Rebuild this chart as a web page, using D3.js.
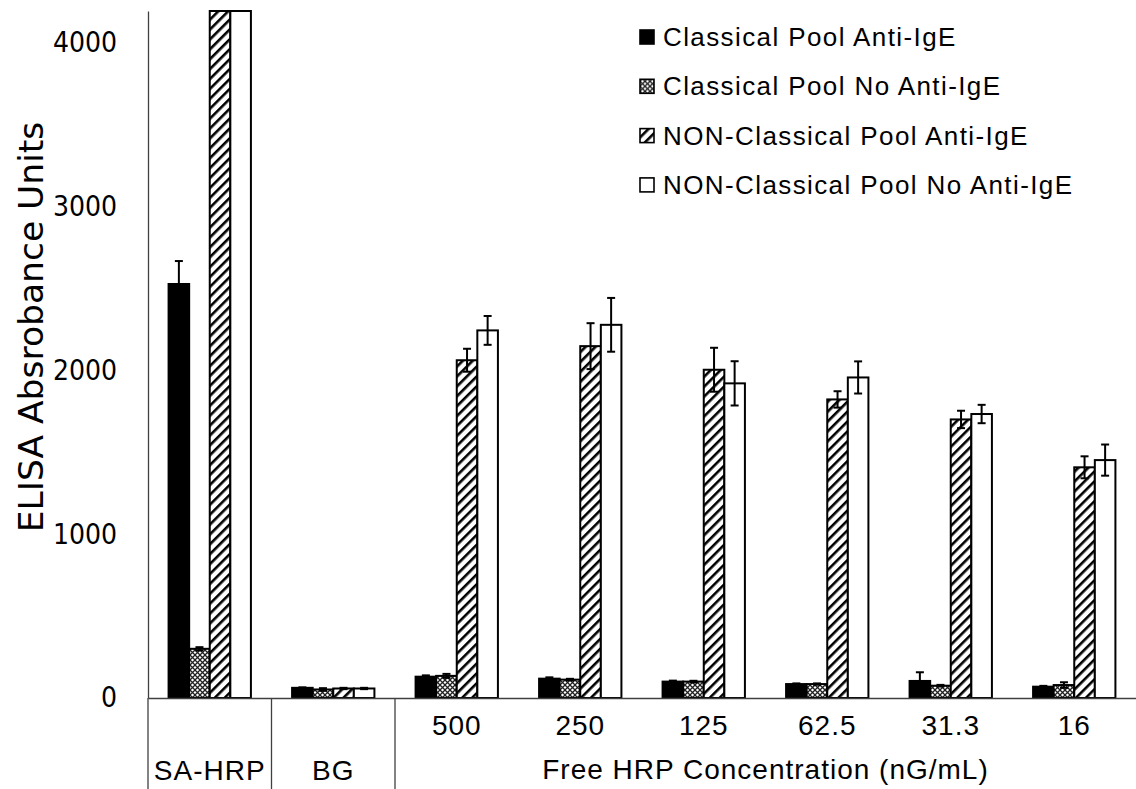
<!DOCTYPE html>
<html>
<head>
<meta charset="utf-8">
<script src="https://cdn.jsdelivr.net/npm/d3@7"></script>
<style>
html, body { margin: 0; padding: 0; background: #fff; }
svg { display: block; }
</style>
</head>
<body>
<div id="chart"></div>
<script>
// categories along the x axis
const categories = ["SA-HRP", "BG", "500", "250", "125", "62.5", "31.3", "16"];
const freeGroup = ["500", "250", "125", "62.5", "31.3", "16"];
const groupTitle = "Free HRP Concentration (nG/mL)";
const yTitle = "ELISA Absrobance Units";
const yTicks = [0, 1000, 2000, 3000, 4000];

const seriesNames = [
    "Classical Pool Anti-IgE",
    "Classical Pool No Anti-IgE",
    "NON-Classical Pool Anti-IgE",
    "NON-Classical Pool No Anti-IgE"
];

// values (SA-HRP NON-classical bars run off the top)
const classicalAnti    = [2525, 62, 130, 118, 100, 85, 104, 69];
const classicalAntiErr = [140, 3, 8, 8, 6, 4, 53, 5];
const classicalNo      = [300, 52, 135, 112, 100, 85, 75, 79];
const classicalNoErr   = [10, 8, 12, 5, 5, 4, 5, 17];
const nonAnti          = [4600, 58, 2060, 2146, 2002, 1821, 1699, 1407];
const nonAntiErr       = [0, 4, 70, 140, 134, 50, 53, 67];
const nonNo            = [4800, 58, 2242, 2276, 1919, 1955, 1732, 1451];
const nonNoErr         = [0, 4, 88, 164, 135, 98, 56, 95];

const width = 1136;
const height = 789;
const margin = { t: 11, r: 0, b: 91, l: 148 };
const plotBottom = height - margin.b;

const svg = d3.select('#chart').append('svg')
    .attr('width', width)
    .attr('height', height);

// fill patterns
const defs = svg.append('defs');

const cross = defs.append('pattern')
    .attr('id', 'pat-cross')
    .attr('patternUnits', 'userSpaceOnUse')
    .attr('width', 5)
    .attr('height', 5);
cross.append('rect').attr('width', 5).attr('height', 5).attr('fill', '#fff');
cross.append('path')
    .attr('d', 'M0,0L5,5M5,0L0,5')
    .attr('stroke', '#222')
    .attr('stroke-width', 1.3);

const hatch = defs.append('pattern')
    .attr('id', 'pat-hatch')
    .attr('patternUnits', 'userSpaceOnUse')
    .attr('width', 7)
    .attr('height', 7)
    .attr('patternTransform', 'rotate(45)');
hatch.append('rect').attr('width', 7).attr('height', 7).attr('fill', '#fff');
hatch.append('rect').attr('width', 2.6).attr('height', 7).attr('fill', '#000');

const fills = ['#000', 'url(#pat-cross)', 'url(#pat-hatch)', '#fff'];

const series = seriesNames.map((name, i) => ({
    key: name,
    values: [classicalAnti, classicalNo, nonAnti, nonNo][i],
    errors: [classicalAntiErr, classicalNoErr, nonAntiErr, nonNoErr][i],
    fill: fills[i]
}));

// scales
const x0 = d3.scaleBand()
    .domain(categories)
    .range([margin.l, width - margin.r])
    .paddingInner(0)
    .paddingOuter(0);

const x1 = d3.scaleBand()
    .domain(seriesNames)
    .range([0, x0.bandwidth()])
    .paddingInner(0)
    .paddingOuter(1);

const y = d3.scaleLinear()
    .domain([0, 4190])
    .range([plotBottom, margin.t])
    .clamp(true);

// y axis
const axisY = d3.axisLeft(y)
    .tickValues(yTicks)
    .tickFormat(d3.format('d'))
    .tickSize(0)
    .tickSizeOuter(0)
    .tickPadding(31);

const axisYNode = svg.append('g')
    .attr('class', 'axis axis-y')
    .attr('transform', `translate(${margin.l},0)`)
    .call(axisY);
axisYNode.select('.domain')
    .attr('stroke', '#404040')
    .attr('stroke-width', 1.3);
axisYNode.selectAll('text')
    .attr('fill', '#000')
    .style('font-family', '"DejaVu Sans Condensed", "DejaVu Sans", sans-serif')
    .style('font-stretch', 'condensed')
    .style('font-size', '28px');

svg.append('text')
    .attr('transform', 'translate(43,327) rotate(-90)')
    .attr('text-anchor', 'middle')
    .style('font-family', '"DejaVu Sans", sans-serif')
    .style('font-size', '34.5px')
    .text(yTitle);

// bars
const groups = svg.append('g')
    .attr('class', 'bars')
    .selectAll('g')
    .data(series)
    .enter().append('g');

groups.selectAll('rect')
    .data(s => categories.map((c, i) => ({ cat: c, key: s.key, value: s.values[i], fill: s.fill })))
    .enter().append('rect')
    .attr('x', d => x0(d.cat) + x1(d.key))
    .attr('y', d => y(d.value))
    .attr('width', x1.bandwidth())
    .attr('height', d => y(0) - y(d.value))
    .attr('fill', d => d.fill)
    .attr('stroke', '#000')
    .attr('stroke-width', 2);

// error bars
const errData = [];
series.forEach(s => {
    categories.forEach((c, i) => {
        if (s.errors[i] > 0) {
            errData.push({ cat: c, key: s.key, value: s.values[i], err: s.errors[i] });
        }
    });
});

const errNode = svg.append('g')
    .attr('class', 'errors')
    .attr('stroke', '#000')
    .attr('stroke-width', 2)
    .selectAll('g')
    .data(errData)
    .enter().append('g')
    .attr('transform', d => `translate(${x0(d.cat) + x1(d.key) + x1.bandwidth() / 2},0)`);

errNode.append('line')
    .attr('y1', d => y(d.value - d.err))
    .attr('y2', d => y(d.value + d.err));
errNode.append('line')
    .attr('x1', -4).attr('x2', 4)
    .attr('y1', d => y(d.value + d.err))
    .attr('y2', d => y(d.value + d.err));
errNode.append('line')
    .attr('x1', -4).attr('x2', 4)
    .attr('y1', d => y(d.value - d.err))
    .attr('y2', d => y(d.value - d.err));

// x axis
const axisX = d3.axisBottom(x0)
    .tickSize(0)
    .tickSizeOuter(0)
    .tickPadding(17);

const axisXNode = svg.append('g')
    .attr('class', 'axis axis-x')
    .attr('transform', `translate(0,${plotBottom})`)
    .call(axisX);
axisXNode.select('.domain')
    .attr('stroke', '#404040')
    .attr('stroke-width', 1.3);
axisXNode.selectAll('text')
    .attr('fill', '#000')
    .attr('y', d => freeGroup.includes(d) ? 17 : 62)
    .style('font-family', '"Liberation Sans", Arial, sans-serif')
    .style('font-size', '28px')
    .style('letter-spacing', '1px');

// separators below the axis
svg.append('g')
    .attr('class', 'separators')
    .selectAll('line')
    .data([categories[0], categories[1], freeGroup[0]])
    .enter().append('line')
    .attr('x1', d => x0(d))
    .attr('x2', d => x0(d))
    .attr('y1', plotBottom)
    .attr('y2', height)
    .attr('stroke', '#404040')
    .attr('stroke-width', 1.3);

const groupLeft = x0(freeGroup[0]);
const groupRight = x0(freeGroup[freeGroup.length - 1]) + x0.bandwidth();
svg.append('text')
    .attr('x', (groupLeft + groupRight) / 2)
    .attr('y', 779)
    .attr('text-anchor', 'middle')
    .style('font-family', '"Liberation Sans", Arial, sans-serif')
    .style('font-size', '28px')
    .style('letter-spacing', '1px')
    .text(groupTitle);

// legend
const legend = svg.append('g')
    .attr('class', 'legend')
    .attr('transform', 'translate(640,37)');

const legendRow = legend.selectAll('g')
    .data(series)
    .enter().append('g')
    .attr('transform', (d, i) => `translate(0,${i * 49.3})`);

legendRow.append('rect')
    .attr('x', 0)
    .attr('y', -7)
    .attr('width', 14)
    .attr('height', 14)
    .attr('fill', d => d.fill)
    .attr('stroke', '#000')
    .attr('stroke-width', 1.6);

legendRow.append('text')
    .attr('x', 23)
    .attr('y', 9)
    .style('font-family', '"Liberation Sans", Arial, sans-serif')
    .style('font-size', '26px')
    .style('letter-spacing', '1.4px')
    .text(d => d.key);
</script>
</body>
</html>
